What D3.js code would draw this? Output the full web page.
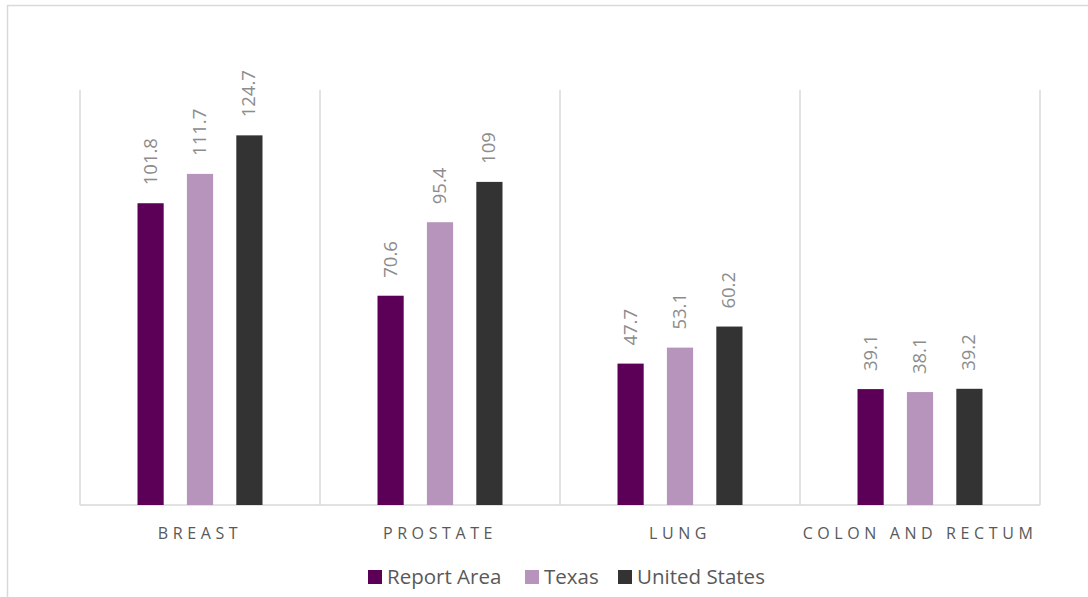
<!DOCTYPE html>
<html>
<head>
<meta charset="utf-8">
<script src="https://cdn.jsdelivr.net/npm/d3@7"></script>
<style>
  html, body { margin: 0; padding: 0; background: #fff; }
  svg { display: block; }
</style>
</head>
<body>
<svg id="chart" width="1088" height="597"></svg>
<script>
const categories = ["BREAST", "PROSTATE", "LUNG", "COLON AND RECTUM"];
const seriesNames = ["Report Area", "Texas", "United States"];
const reportArea = [101.8, 70.6, 47.7, 39.1];
const texas = [111.7, 95.4, 53.1, 38.1];
const unitedStates = [124.7, 109, 60.2, 39.2];
const seriesColors = ["#5c0057", "#b794bc", "#333333"];
const yMax = 140;

const seriesValues = [reportArea, texas, unitedStates];
const data = categories.map((c, i) => ({
  category: c,
  values: seriesNames.map((s, j) => ({ series: s, value: seriesValues[j][i], color: seriesColors[j] }))
}));

const svg = d3.select("#chart");
const W = 1088, H = 597;
const plot = { left: 80, right: 1040, top: 90, bottom: 505 };
const font = "'Open Sans', 'Segoe UI', sans-serif";

// outer border
svg.append("rect").attr("x", 7.5).attr("y", 5.5).attr("width", W + 10).attr("height", H + 10)
  .attr("fill", "none").attr("stroke", "#d9d9d9").attr("stroke-width", 1.5);

const x0 = d3.scaleBand().domain(categories).range([plot.left, plot.right]).padding(0);
const groupWidth = 125;
const x1 = d3.scaleBand().domain(seriesNames)
  .range([(x0.bandwidth() - groupWidth) / 2, (x0.bandwidth() + groupWidth) / 2])
  .paddingInner(0.47).paddingOuter(0);
const y = d3.scaleLinear().domain([0, yMax]).range([plot.bottom, plot.top]);

// vertical separators
const seps = categories.map(c => x0(c)).concat([plot.right]);
svg.append("g").selectAll("line").data(seps).join("line")
  .attr("x1", d => d).attr("x2", d => d)
  .attr("y1", plot.top).attr("y2", plot.bottom)
  .attr("stroke", "#d9d9d9").attr("stroke-width", 1.5);

// baseline
svg.append("line").attr("x1", plot.left).attr("x2", plot.right)
  .attr("y1", plot.bottom).attr("y2", plot.bottom)
  .attr("stroke", "#d9d9d9").attr("stroke-width", 1.5);

const groups = svg.append("g").selectAll("g").data(data).join("g")
  .attr("transform", d => `translate(${x0(d.category)},0)`);

groups.selectAll("rect").data(d => d.values).join("rect")
  .attr("x", d => x1(d.series))
  .attr("width", x1.bandwidth())
  .attr("y", d => y(d.value))
  .attr("height", d => y(0) - y(d.value))
  .attr("fill", d => d.color);

groups.selectAll("text.val").data(d => d.values).join("text")
  .attr("class", "val")
  .attr("transform", d => `translate(${x1(d.series) + x1.bandwidth() / 2 + 6},${y(d.value) - 18}) rotate(-90)`)
  .attr("font-family", font).attr("font-size", 18.5).attr("fill", "#8c8c8c")
  .attr("text-anchor", "start")
  .text(d => d.value);

// x axis labels
const xAxis = d3.axisBottom(x0).tickSize(0).tickPadding(0);
const ax = svg.append("g").attr("transform", `translate(0,${plot.bottom})`).call(xAxis);
ax.select(".domain").remove();
ax.selectAll("text")
  .attr("y", 33.5)
  .attr("dy", 0)
  .attr("font-family", font).attr("font-size", 16).attr("fill", "#595959")
  .attr("letter-spacing", "4.6px");

// legend
const legendItems = [
  { name: seriesNames[0], color: seriesColors[0], x: 368 },
  { name: seriesNames[1], color: seriesColors[1], x: 525 },
  { name: seriesNames[2], color: seriesColors[2], x: 618 }
];
const lg = svg.append("g").selectAll("g").data(legendItems).join("g")
  .attr("transform", d => `translate(${d.x},570)`);
lg.append("rect").attr("width", 14).attr("height", 14).attr("fill", d => d.color);
lg.append("text").attr("x", 19).attr("y", 14)
  .attr("font-family", font).attr("font-size", 20.5).attr("fill", "#595959")
  .text(d => d.name);
</script>
</body>
</html>
